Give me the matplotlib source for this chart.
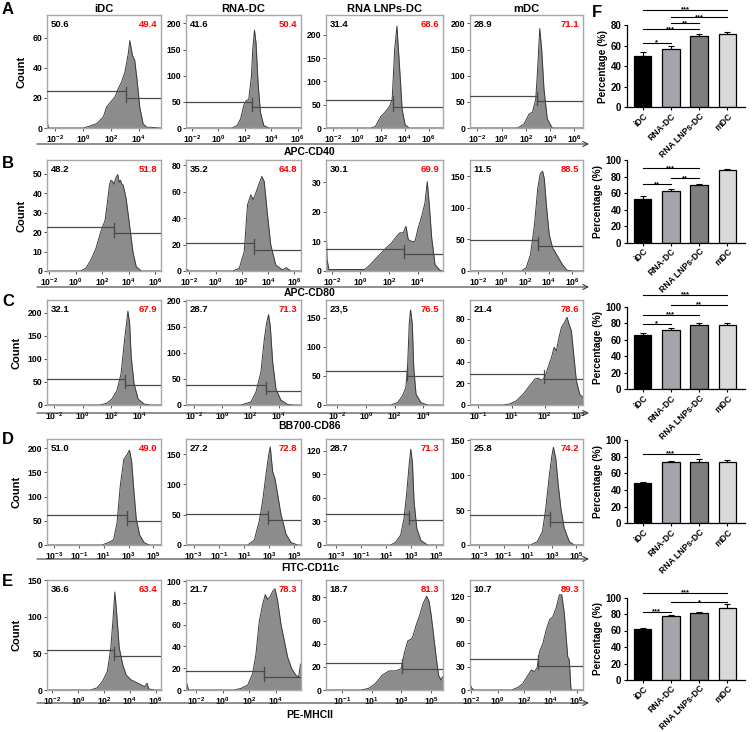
import numpy as np
import matplotlib
matplotlib.use('Agg')
import matplotlib.pyplot as plt

plt.rcParams['font.family'] = ['Liberation Sans', 'DejaVu Sans']
plt.rcParams['font.weight'] = 'bold'
plt.rcParams['mathtext.fontset'] = 'custom'
plt.rcParams['mathtext.rm'] = 'Liberation Sans:bold'
plt.rcParams['mathtext.bf'] = 'Liberation Sans:bold'
plt.rcParams['mathtext.default'] = 'rm'

# ---------------- data ----------------
groups = ['iDC', 'RNA-DC', 'RNA LNPs-DC', 'mDC']
markers = ['APC-CD40', 'APC-CD80', 'BB700-CD86', 'FITC-CD11c', 'PE-MHCII']

# APC-CD40 histograms (log10 intensity, count)
cd40_idc_x = [-2.6, -2.56, -2.5, 0.0, 0.38, 0.98, 1.45, 1.69, 2.05, 2.29, 2.52, 2.76, 3.0, 3.24, 3.36, 3.55, 3.71, 3.88, 4.07, 4.31, 4.55, 5.6]
cd40_idc_y = [18, 3, 0, 0, 1, 2.9, 7.3, 14, 18, 20.6, 26, 30.5, 37, 49, 58, 48, 45, 31.6, 14, 2.9, 0.6, 0]
cd40_rna_x = [-2.45, 1.05, 1.43, 1.68, 1.93, 2.1, 2.3, 2.5, 2.6, 2.73, 2.85, 3.0, 3.18, 3.43, 3.8, 6.25]
cd40_rna_y = [0, 0, 5, 17.6, 44, 52, 55, 99, 150, 187, 162, 87, 30, 5, 0, 0]
cd40_lnp_x = [-2.6, 1.18, 1.53, 2.0, 2.31, 2.72, 2.94, 3.15, 3.34, 3.56, 3.78, 4.03, 4.35, 7.2]
cd40_lnp_y = [0, 0, 3, 25, 33, 46, 61, 168, 219, 132, 39, 7, 0, 0]
cd40_mdc_x = [-2.6, 1.33, 1.86, 2.27, 2.54, 2.81, 2.95, 3.14, 3.3, 3.49, 3.76, 4.17, 6.7]
cd40_mdc_y = [0, 0, 8, 27, 30, 55, 106, 190, 150, 74, 17.5, 0, 0]
cd40_split = [3.07, 2.55, 3.03, 2.95]
cd40_neg_gate = [24.5, 50, 61, 61.5]
cd40_pos_gate = [20, 40, 46, 52]
cd40_neg = ['50.6', '41.6', '31.4', '28.9']
cd40_pos = ['49.4', '50.4', '68.6', '71.1']

# APC-CD80
cd80_idc_x = [-2.15, 0.41, 0.78, 1.16, 1.54, 1.92, 2.23, 2.38, 2.56, 2.66, 2.8, 2.9, 3.05, 3.19, 3.3, 3.39, 3.5, 3.6, 3.82, 4.08, 4.33, 4.58, 4.96, 6.45]
cd80_idc_y = [0, 0, 1.4, 5.6, 11.6, 20.5, 26, 33.8, 44, 46.5, 46, 44.5, 48, 49.5, 45.5, 46.6, 44.5, 44, 37.2, 23.5, 9.9, 2.2, 0, 0]
cd80_rna_x = [-2.25, -2.15, -2.05, 1.29, 1.8, 2.18, 2.43, 2.68, 2.86, 3.06, 3.27, 3.52, 3.7, 3.95, 4.2, 4.58, 5.09, 5.39, 5.72, 6.5]
cd80_rna_y = [2, 1, 0, 0, 2, 14.7, 50, 57.7, 54, 59, 65, 71.6, 67.8, 42.5, 19.7, 4.6, 0.8, 2.5, 0, 0]
cd80_lnp_x = [-2.4, -2.33, -2.2, 0.3, 0.67, 1.14, 1.49, 1.84, 2.19, 2.54, 2.77, 3.0, 3.19, 3.35, 3.59, 3.82, 4.05, 4.29, 4.52, 4.68, 4.82, 4.99, 5.22, 5.57, 5.78]
cd80_lnp_y = [18, 4, 0.5, 0.5, 2, 4.5, 6.2, 7.9, 9.5, 11.7, 12.9, 12.9, 15.1, 10.6, 10, 10, 14.6, 18.5, 23, 30.2, 22.4, 11.2, 2.2, 0.2, 0]
cd80_mdc_x = [-2.7, 1.67, 2.08, 2.44, 2.78, 3.06, 3.28, 3.47, 3.61, 3.81, 4.03, 4.31, 4.72, 5.14, 5.56, 6.1, 6.9]
cd80_mdc_y = [0, 0, 5.3, 26, 74, 132, 155, 158, 147, 100, 58, 37, 24, 10.5, 1, 0, 0]
cd80_split = [2.89, 2.94, 3.07, 3.06]
cd80_neg_gate = [22.7, 21, 7.6, 48.5]
cd80_pos_gate = [19.3, 16, 5.8, 39.5]
cd80_neg = ['48.2', '35.2', '30.1', '11.5']
cd80_pos = ['51.8', '64.8', '69.9', '88.5']

# BB700-CD86
cd86_idc_x = [-2.48, 1.21, 1.69, 2.05, 2.4, 2.69, 2.93, 3.07, 3.17, 3.29, 3.4, 3.6, 3.88, 4.31, 4.79, 5.48]
cd86_idc_y = [0, 0, 3.6, 13, 31, 68, 140, 177, 204, 177, 104, 46, 13, 2, 0, 0]
cd86_rna_x = [-2.54, 1.34, 2.05, 2.4, 2.75, 2.99, 3.15, 3.29, 3.41, 3.58, 3.81, 4.16, 4.64, 5.1, 5.58]
cd86_rna_y = [0, 0, 6, 25, 63, 126, 157, 173, 151, 82, 31, 9.4, 1, 0, 0]
cd86_lnp_x = [-2.79, 1.72, 2.19, 2.54, 2.77, 2.89, 3.01, 3.1, 3.22, 3.32, 3.48, 3.83, 4.3, 5.36]
cd86_lnp_y = [0, 0, 4, 15.6, 30, 64.5, 140, 163, 140, 64.5, 18.5, 4, 0, 0]
# mDC panel uses an evenly spaced decade axis labelled 10^-1, 10^1, 10^2, 10^3
cd86_mdc_x = [-0.25, 0.75, 0.95, 1.15, 1.35, 1.55, 1.7, 1.8, 1.9, 2.0, 2.1, 2.2, 2.28, 2.35, 2.43, 2.5, 2.6, 2.67, 2.73, 2.8, 2.87, 2.95, 3.05, 3.15]
cd86_mdc_y = [0, 0, 1, 4, 10, 18, 24, 25, 23, 25.7, 35, 44, 53.6, 50.5, 63, 72, 77, 81.5, 75, 69, 47, 22.6, 10, 7]
cd86_mdc_tick_exp = [-1, 1, 2, 3]
cd86_split = [3.0, 3.1, 2.85, 1.97]
cd86_neg_gate = [56.7, 37.7, 59, 28.8]
cd86_pos_gate = [44.4, 27.7, 49, 24.2]
cd86_neg = ['32.1', '28.7', '23,5', '21.4']
cd86_pos = ['67.9', '71.3', '76.5', '78.6']

# FITC-CD11c
cd11c_idc_x = [-3.6, -3.55, -3.45, 0.84, 1.38, 1.79, 2.07, 2.34, 2.62, 2.89, 3.08, 3.25, 3.44, 3.63, 3.9, 4.26, 4.67, 5.63]
cd11c_idc_y = [4, 1, 0, 0, 5, 10.6, 46, 124, 177, 187, 196, 173, 110, 53, 21, 5, 0, 0]
cd11c_rna_x = [-3.6, 1.29, 1.82, 2.22, 2.48, 2.75, 2.96, 3.09, 3.28, 3.46, 3.68, 3.94, 4.34, 4.74, 5.26, 5.53]
cd11c_rna_y = [0, 0, 8, 40, 72, 116, 148, 162, 121, 110, 83, 50.5, 18, 4, 0, 0]
cd11c_lnp_x = [-3.8, 1.35, 1.76, 2.16, 2.43, 2.65, 2.83, 2.97, 3.1, 3.23, 3.45, 3.77, 4.31, 5.54]
cd11c_lnp_y = [0, 0, 3.4, 12.7, 34, 67.5, 101, 122, 105, 55, 21, 6, 0, 0]
cd11c_mdc_x = [-3.78, 1.22, 1.78, 2.2, 2.48, 2.75, 2.98, 3.11, 3.31, 3.5, 3.72, 4.0, 4.42, 4.83, 5.55]
cd11c_mdc_y = [0, 0, 4.8, 19, 53, 97, 128, 140, 123, 87, 53, 24, 4.8, 0, 0]
cd11c_split = [2.89, 2.88, 2.83, 2.83]
cd11c_neg_gate = [62, 50.5, 39, 42.5]
cd11c_pos_gate = [49.5, 40.8, 31.6, 33]
cd11c_neg = ['51.0', '27.2', '28.7', '25.8']
cd11c_pos = ['49.0', '72.8', '71.3', '74.2']

# PE-MHCII
mhc_idc_x = [-2.42, 0.95, 1.47, 1.87, 2.26, 2.53, 2.71, 2.84, 2.97, 3.18, 3.45, 3.71, 4.1, 4.63, 5.16, 5.34, 5.47, 5.95, 6.42]
mhc_idc_y = [0, 0, 3, 11.5, 25, 57.6, 99, 133.6, 108, 57.6, 34.6, 20.7, 13.8, 9.2, 4.6, 9.2, 1.4, 0, 0]
mhc_rna_x = [-2.75, -2.7, -2.55, 0.88, 1.38, 1.88, 2.25, 2.5, 2.75, 3.0, 3.2, 3.38, 3.58, 3.75, 3.93, 4.13, 4.38, 4.63, 4.88, 5.18, 5.5, 5.7, 5.83, 5.88]
mhc_rna_y = [15, 6, 0, 0, 1.5, 4.5, 15, 33, 63, 78.5, 87.6, 83, 86, 90.6, 93, 81.6, 60, 45, 30, 19.6, 13.6, 12, 22.7, 24]
mhc_lnp_x = [-2.08, 0.3, 0.79, 1.26, 1.71, 2.17, 2.63, 2.98, 3.21, 3.43, 3.67, 3.78, 4.01, 4.24, 4.47, 4.7, 4.86, 5.0, 5.16, 5.34, 5.5, 5.67, 5.76, 5.8]
mhc_lnp_y = [0, 0, 1.4, 5.7, 12.8, 16.5, 16.5, 18.4, 32.6, 42.5, 44, 46.8, 56.7, 65, 75, 81, 76.6, 65, 48, 28.4, 12.8, 8.5, 11.3, 11]
mhc_mdc_x = [-2.1, -2.0, -1.8, 1.05, 1.55, 1.92, 2.3, 2.55, 2.8, 3.0, 3.17, 3.43, 3.68, 3.93, 4.18, 4.43, 4.68, 4.86, 5.05, 5.31, 5.43, 5.56, 6.47]
mhc_mdc_y = [8.6, 3, 0, 0, 3.4, 8.6, 19, 25.7, 23.6, 29, 49, 60, 77, 90, 94, 105, 122, 122, 98.6, 42.8, 38.6, 0, 0]
mhc_split = [2.74, 3.13, 3.02, 3.05]
mhc_neg_gate = [54, 17.5, 23.5, 39.4]
mhc_pos_gate = [46, 11.5, 18.4, 31.3]
mhc_neg = ['36.6', '21.7', '18.7', '10.7']
mhc_pos = ['63.4', '78.3', '81.3', '89.3']

# Bar charts (F): mean %, SD, significance (group i, group j, line height, label)
cd40_mean = [50, 57, 69, 71]
cd40_err = [3.5, 2.3, 2, 2]
cd40_sig = [(0, 1, 62.7, '*'), (0, 2, 75.8, '***'), (1, 2, 81.6, '**'), (1, 3, 87.5, '***'), (0, 3, 94.6, '***')]
cd80_mean = [53, 63, 70, 88]
cd80_err = [3, 2.5, 1, 1]
cd80_sig = [(0, 1, 70.7, '**'), (1, 2, 78, '**'), (0, 2, 90, '***')]
cd86_mean = [66, 72, 78, 78]
cd86_err = [2.5, 2.5, 2, 2]
cd86_sig = [(0, 1, 79, '*'), (0, 2, 90, '***'), (1, 3, 102, '**'), (0, 3, 114.6, '***')]
cd11c_mean = [48, 73, 74, 74]
cd11c_err = [1.5, 1.5, 3, 1.5]
cd11c_sig = [(0, 2, 83.2, '***')]
mhc_mean = [62, 77.5, 81, 87]
mhc_err = [1, 1.5, 2, 5]
mhc_sig = [(0, 1, 82.8, '***'), (1, 3, 94.3, '*'), (0, 3, 106, '***')]

bar_colors = ['#000000', '#a4a4ab', '#7e7e7e', '#d9d9d9']

# ---------------- layout ----------------
W, H = 753, 732
fig = plt.figure(figsize=(W / 100, H / 100), dpi=100)


def px_axes(x0, y0, x1, y1, **kw):
    return fig.add_axes([x0 / W, 1 - y1 / H, (x1 - x0) / W, (y1 - y0) / H], **kw)


col_x = [(47, 161), (186, 301), (326, 443), (470, 583)]
row_y = [(15, 128), (160, 271), (300, 405), (439, 545), (580, 690)]
bar_y = [(25, 107.3), (160, 242.7), (306.7, 389.3), (440, 523.3), (597.5, 680)]
bar_x = (627, 745)
sep_y = [144, 287, 413, 559, 703]
lab_y = [152, 293, 426, 568, 715]
letter_y = [9, 163, 302, 439, 582]

T5 = [0, 50, 100, 150, 200]
cfgs = [
    [((-2.6, 5.6), [-2, 0, 2, 4], (0, 75), [0, 20, 40, 60]),
     ((-2.45, 6.25), [-2, 0, 2, 4, 6], (0, 216), T5),
     ((-2.6, 7.2), [-2, 0, 2, 4, 6], (0, 243), T5),
     ((-2.6, 6.7), [-2, 0, 2, 4, 6], (0, 216), T5)],
    [((-2.15, 6.45), [-2, 0, 2, 4, 6], (0, 57), [0, 10, 20, 30, 40, 50]),
     ((-2.25, 6.5), [-2, 0, 2, 4, 6], (0, 84), [0, 20, 40, 60, 80]),
     ((-2.4, 5.78), [-2, 0, 2, 4], (0, 37.5), [0, 10, 20, 30]),
     ((-2.7, 6.9), [-2, 0, 2, 4, 6], (0, 176), [0, 50, 100, 150])],
    [((-2.48, 5.48), [-2, 0, 2, 4], (0, 228), T5),
     ((-2.54, 5.58), [-2, 0, 2, 4], (0, 201), T5),
     ((-2.79, 5.36), [-2, 0, 2, 4], (0, 180), [0, 50, 100, 150]),
     ((-0.25, 3.15), [0, 1, 2, 3], (0, 97.5), [0, 20, 40, 60, 80])],
    [((-3.6, 5.63), [-3, -1, 1, 3, 5], (0, 219), T5),
     ((-3.6, 5.53), [-3, -1, 1, 3, 5], (0, 175), [0, 50, 100, 150]),
     ((-3.8, 5.54), [-3, -1, 1, 3, 5], (0, 135), [0, 30, 60, 90, 120]),
     ((-3.78, 5.55), [-3, -1, 1, 3, 5], (0, 152), [0, 50, 100, 150])],
    [((-2.42, 6.42), [-2, 0, 2, 4, 6], (0, 150), [0, 50, 100, 150]),
     ((-2.75, 5.88), [-2, 0, 2, 4], (0, 101), [0, 20, 40, 60, 80, 100]),
     ((-2.08, 5.8), [-1, 1, 3, 5], (0, 95), [0, 20, 40, 60, 80]),
     ((-2.1, 6.47), [-2, 0, 2, 4, 6], (0, 141), [0, 30, 60, 90, 120])],
]

rows = [
    ([cd40_idc_x, cd40_rna_x, cd40_lnp_x, cd40_mdc_x], [cd40_idc_y, cd40_rna_y, cd40_lnp_y, cd40_mdc_y],
     cd40_split, cd40_neg_gate, cd40_pos_gate, cd40_neg, cd40_pos, cd40_mean, cd40_err, cd40_sig, (0, 80), [0, 20, 40, 60, 80]),
    ([cd80_idc_x, cd80_rna_x, cd80_lnp_x, cd80_mdc_x], [cd80_idc_y, cd80_rna_y, cd80_lnp_y, cd80_mdc_y],
     cd80_split, cd80_neg_gate, cd80_pos_gate, cd80_neg, cd80_pos, cd80_mean, cd80_err, cd80_sig, (0, 100), [0, 20, 40, 60, 80, 100]),
    ([cd86_idc_x, cd86_rna_x, cd86_lnp_x, cd86_mdc_x], [cd86_idc_y, cd86_rna_y, cd86_lnp_y, cd86_mdc_y],
     cd86_split, cd86_neg_gate, cd86_pos_gate, cd86_neg, cd86_pos, cd86_mean, cd86_err, cd86_sig, (0, 100), [0, 20, 40, 60, 80, 100]),
    ([cd11c_idc_x, cd11c_rna_x, cd11c_lnp_x, cd11c_mdc_x], [cd11c_idc_y, cd11c_rna_y, cd11c_lnp_y, cd11c_mdc_y],
     cd11c_split, cd11c_neg_gate, cd11c_pos_gate, cd11c_neg, cd11c_pos, cd11c_mean, cd11c_err, cd11c_sig, (0, 100), [0, 20, 40, 60, 80, 100]),
    ([mhc_idc_x, mhc_rna_x, mhc_lnp_x, mhc_mdc_x], [mhc_idc_y, mhc_rna_y, mhc_lnp_y, mhc_mdc_y],
     mhc_split, mhc_neg_gate, mhc_pos_gate, mhc_neg, mhc_pos, mhc_mean, mhc_err, mhc_sig, (0, 100), [0, 20, 40, 60, 80, 100]),
]

gate_c = '#4a4a4a'
for r, row in enumerate(rows):
    xs, ys, split, gneg, gpos, neg, pos, means, errs, sig, bylim, byt = row
    y0, y1 = row_y[r]
    for c in range(4):
        xlim, xt, ylim, yt = cfgs[r][c]
        ax = px_axes(col_x[c][0], y0, col_x[c][1], y1)
        ax.fill_between(xs[c], ys[c], 0, color='#8c8c8c', lw=0, zorder=1)
        ax.plot(xs[c], ys[c], color='#3a3a3a', lw=0.7, zorder=2)
        ax.set_xlim(xlim)
        ax.set_ylim(ylim)
        h = 0.035 * ylim[1]
        s = split[c]
        ax.plot([xlim[0], s], [gneg[c], gneg[c]], color=gate_c, lw=0.9, zorder=3)
        ax.plot([s, s], [gneg[c] - h, gneg[c] + h], color=gate_c, lw=0.9, zorder=3)
        ax.plot([s, xlim[1]], [gpos[c], gpos[c]], color=gate_c, lw=0.9, zorder=3)
        ax.plot([s, s], [gpos[c] - h, gpos[c] + h], color=gate_c, lw=0.9, zorder=3)
        ax.set_xticks(xt)
        if r == 2 and c == 3:
            exps = cd86_mdc_tick_exp
        else:
            exps = xt
        ax.set_xticklabels([r'$10^{%d}$' % e for e in exps])
        ax.set_yticks(yt)
        ax.set_yticklabels([str(v) for v in yt])
        ax.tick_params(axis='both', length=2, width=0.6, pad=1.5, labelsize=6.2, color='#333333')
        for sp in ax.spines.values():
            sp.set_color('#a8a8a8')
            sp.set_linewidth(1.0)
        ax.text(0.03, 0.955, neg[c], transform=ax.transAxes, ha='left', va='top',
                fontsize=6.8, fontweight='bold', color='black')
        ax.text(0.97, 0.955, pos[c], transform=ax.transAxes, ha='right', va='top',
                fontsize=6.8, fontweight='bold', color='#ff0000')
        if c == 0:
            ax.set_ylabel('Count', fontsize=8, fontweight='bold', labelpad=4)

    # bar chart
    bx = px_axes(bar_x[0], bar_y[r][0], bar_x[1], bar_y[r][1])
    pos_x = np.arange(4)
    bx.errorbar(pos_x, means, yerr=[np.zeros(4), errs], fmt='none', ecolor='black',
                elinewidth=0.8, capsize=2.5, capthick=0.8, zorder=1)
    bx.bar(pos_x, means, width=0.62, color=bar_colors, edgecolor='black', linewidth=0.9, zorder=2)
    bx.set_xlim(-0.55, 3.62)
    bx.set_ylim(bylim)
    bx.set_yticks(byt)
    bx.set_yticklabels([str(v) for v in byt], fontsize=7)
    bx.set_xticks(pos_x)
    bx.set_xticklabels(groups, rotation=45, ha='right', rotation_mode='anchor', fontsize=6.2)
    bx.spines['top'].set_visible(False)
    bx.spines['right'].set_visible(False)
    for sp in ['left', 'bottom']:
        bx.spines[sp].set_linewidth(0.9)
    bx.tick_params(axis='y', length=2.5, width=0.8, pad=1.5)
    bx.tick_params(axis='x', length=2.2, width=0.8, pad=0.8)
    bx.set_ylabel('Percentage (%)', fontsize=7.3, fontweight='bold', labelpad=2)
    for (i, j, yv, lab) in sig:
        bx.plot([i, j], [yv, yv], color='black', lw=0.8, clip_on=False, zorder=4)
        bx.annotate(lab, xy=((i + j) / 2, yv), xytext=(0, -1.2), textcoords='offset points',
                    ha='center', va='baseline', fontsize=5.5, fontweight='bold',
                    annotation_clip=False)

# overlay for panel letters, headers and axis captions
ov = fig.add_axes([0, 0, 1, 1], zorder=10)
ov.set_xlim(0, W)
ov.set_ylim(H, 0)
ov.axis('off')
for c, g in enumerate(groups):
    ov.text((col_x[c][0] + col_x[c][1]) / 2, 9, g, ha='center', va='center', fontsize=8, fontweight='bold')
for r, L in enumerate('ABCDE'):
    ov.text(2, letter_y[r], L, ha='left', va='center', fontsize=12, fontweight='bold')
ov.text(592, 12.5, 'F', ha='left', va='center', fontsize=12, fontweight='bold')
for r in range(5):
    ov.annotate('', xy=(589, sep_y[r]), xytext=(37, sep_y[r]),
                arrowprops=dict(arrowstyle='->', lw=0.8, color='#3a3a3a', shrinkA=0, shrinkB=0,
                                mutation_scale=9))
    ov.text(310, lab_y[r], markers[r], ha='center', va='center', fontsize=7.5, fontweight='bold')

fig.savefig('out.png', dpi=100)
